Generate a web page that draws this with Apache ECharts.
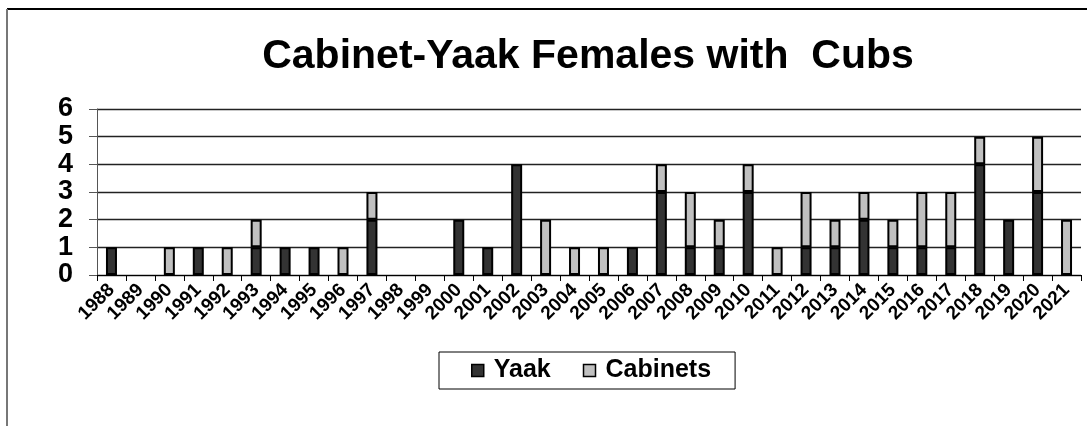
<!DOCTYPE html>
<html>
<head>
<meta charset="utf-8">
<script src="https://cdn.jsdelivr.net/npm/echarts@6/dist/echarts.min.js"></script>
<style>
  html, body { margin: 0; padding: 0; background: #fff; }
  #chart { width: 1087px; height: 426px; }
</style>
</head>
<body>
<div id="chart"></div>
<script>
// years on the category axis
var years = ["1988", "1989", "1990", "1991", "1992", "1993", "1994", "1995", "1996", "1997",
    "1998", "1999", "2000", "2001", "2002", "2003", "2004", "2005", "2006", "2007",
    "2008", "2009", "2010", "2011", "2012", "2013", "2014", "2015", "2016", "2017",
    "2018", "2019", "2020", "2021"];
// females with cubs, stacked
var yaak = [1, 0, 0, 1, 0, 1, 1, 1, 0, 2,
    0, 0, 2, 1, 4, 0, 0, 0, 1, 3,
    1, 1, 3, 0, 1, 1, 2, 1, 1, 1,
    4, 2, 3, 0];
var cabinets = [0, 0, 1, 0, 1, 1, 0, 0, 1, 1,
    0, 0, 0, 0, 0, 2, 1, 1, 0, 1,
    2, 1, 1, 1, 2, 1, 1, 1, 2, 2,
    1, 0, 2, 2];

// zero counts draw nothing
function noZero(arr) {
    return arr.map(function(v) { return v === 0 ? "-" : v; });
}

var myChart = echarts.init(document.getElementById("chart"));
var font = "Liberation Sans, Arial, sans-serif";

var option = {
    backgroundColor: "#fff",
    animation: false,
    title: {
        text: "Cabinet-Yaak Females with  Cubs",
        left: 583,
        textAlign: "center",
        top: 31,
        textStyle: { fontFamily: font, fontSize: 41, fontWeight: "bold", color: "#000" }
    },
    legend: {
        left: 439,
        top: 352,
        width: 298,
        padding: [6, 24, 6, 32],
        borderColor: "#000",
        borderWidth: 1,
        itemWidth: 12,
        itemHeight: 12,
        itemGap: 32,
        textStyle: { fontFamily: font, fontSize: 25, fontWeight: "bold", color: "#000", padding: [0, 0, 0, 5] },
        data: [
            { name: "Yaak", icon: "rect", itemStyle: { color: "#333", borderColor: "#000", borderWidth: 1.5 } },
            { name: "Cabinets", icon: "rect", itemStyle: { color: "#c0c0c0", borderColor: "#000", borderWidth: 1.5 } }
        ]
    },
    grid: { left: 97, right: 6, top: 109, bottom: 151 },
    xAxis: {
        type: "category",
        data: years,
        axisLine: { lineStyle: { color: "#000", width: 1 } },
        axisTick: { show: true, length: 6, lineStyle: { color: "#000" } },
        axisLabel: {
            rotate: 45,
            interval: 0,
            margin: 12,
            fontFamily: font,
            fontSize: 19,
            fontWeight: "bold",
            color: "#000"
        }
    },
    yAxis: {
        type: "value",
        min: 0,
        max: 6,
        interval: 1,
        axisLine: { show: true, lineStyle: { color: "#555", width: 1 } },
        axisTick: { show: true, length: 8, lineStyle: { color: "#555" } },
        splitLine: { lineStyle: { color: "#222", width: 1.3 } },
        axisLabel: {
            margin: 24,
            fontFamily: font,
            fontSize: 27,
            fontWeight: "bold",
            color: "#000"
        }
    },
    series: [
        {
            name: "Yaak",
            type: "bar",
            stack: "cubs",
            barWidth: 11,
            data: noZero(yaak),
            itemStyle: { color: "#333", borderColor: "#000", borderWidth: 2 }
        },
        {
            name: "Cabinets",
            type: "bar",
            stack: "cubs",
            barWidth: 11,
            data: noZero(cabinets),
            itemStyle: { color: "#c0c0c0", borderColor: "#000", borderWidth: 2 }
        }
    ],
    graphic: [
        { type: "line", shape: { x1: 7, y1: 9, x2: 1087, y2: 9 }, style: { stroke: "#000", lineWidth: 2 } },
        { type: "line", shape: { x1: 7, y1: 9, x2: 7, y2: 426 }, style: { stroke: "#777", lineWidth: 2 } }
    ]
};
myChart.setOption(option);
</script>
</body>
</html>
